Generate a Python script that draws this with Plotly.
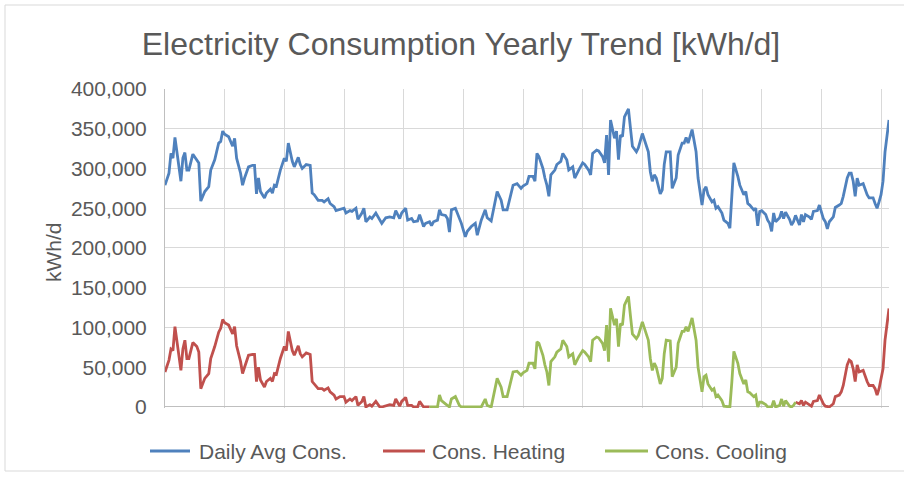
import plotly.graph_objects as go

# Day of year (0 = first day) and daily electricity figures in thousand kWh/d
days = [0, 2, 3, 4, 5, 6, 8, 9, 10, 11, 12, 14, 16, 17, 18, 20, 22, 23, 25, 27, 28, 29, 30, 32, 33, 34, 35, 36, 38, 39,
        40, 42, 44, 45, 46, 47, 48, 50, 51, 53, 54, 55, 56, 58, 60, 61, 62, 64, 65, 67, 68, 69, 71, 73, 74, 75, 77, 79,
        80, 82, 83, 85, 86, 88, 90, 91, 93, 94, 96, 97, 99, 100, 101, 103, 104, 106, 108, 109, 111, 113, 115, 116, 118,
        119, 121, 122, 124, 125, 127, 128, 130, 131, 133, 134, 135, 137, 138, 139, 141, 142, 143, 144, 146, 148, 149,
        151, 152, 154, 156, 157, 159, 161, 162, 164, 165, 167, 169, 170, 172, 174, 175, 177, 179, 180, 182, 183, 185,
        186, 187, 188, 190, 191, 192, 193, 194, 196, 197, 199, 200, 202, 203, 205, 206, 208, 210, 211, 213, 214, 215,
        217, 218, 220, 221, 222, 223, 224, 226, 227, 228, 229, 230, 231, 233, 234, 235, 237, 238, 240, 242, 243, 244,
        245, 246, 247, 249, 250, 251, 252, 254, 255, 257, 258, 260, 261, 262, 263, 265, 266, 267, 268, 270, 271, 272,
        273, 275, 276, 277, 278, 280, 281, 283, 284, 285, 286, 288, 289, 291, 292, 293, 294, 296, 297, 298, 299, 300,
        302, 303, 304, 305, 306, 307, 309, 310, 311, 312, 314, 315, 316, 317, 319, 320, 321, 322, 324, 325, 326, 328,
        329, 331, 332, 333, 334, 336, 337, 339, 340, 341, 343, 344, 345, 346, 347, 348, 349, 351, 352, 353, 354, 356,
        357, 358, 359, 360, 361, 362, 364]

daily_avg = [279, 294, 319, 313, 339, 321, 284, 313, 320, 298, 298, 318, 311, 307, 259, 271, 277, 298, 311, 332, 334,
             347, 343, 340, 334, 328, 338, 313, 294, 279, 288, 302, 304, 304, 268, 288, 271, 263, 269, 274, 269, 279,
             278, 298, 313, 309, 332, 309, 302, 314, 305, 300, 305, 304, 269, 267, 260, 260, 258, 262, 256, 252, 247,
             249, 250, 244, 247, 246, 250, 236, 244, 250, 233, 239, 237, 244, 235, 231, 238, 239, 238, 247, 237, 244,
             250, 235, 237, 233, 234, 242, 227, 231, 233, 228, 233, 235, 248, 242, 241, 237, 220, 248, 250, 237, 231,
             214, 221, 227, 231, 216, 235, 248, 238, 234, 248, 271, 260, 248, 248, 271, 279, 281, 275, 278, 281, 290,
             290, 284, 319, 315, 300, 288, 279, 265, 292, 298, 305, 309, 319, 311, 298, 302, 288, 298, 307, 305, 298,
             292, 319, 323, 322, 315, 307, 342, 292, 361, 338, 347, 311, 342, 340, 365, 375, 351, 328, 321, 326, 344,
             328, 321, 296, 284, 292, 288, 268, 273, 305, 321, 321, 275, 288, 317, 332, 332, 339, 332, 349, 336, 321,
             288, 254, 273, 277, 267, 258, 260, 250, 252, 244, 235, 231, 225, 267, 307, 290, 279, 267, 271, 256, 254,
             248, 250, 228, 246, 247, 242, 235, 231, 221, 244, 233, 238, 246, 237, 245, 236, 229, 233, 241, 229, 242,
             233, 242, 239, 236, 246, 247, 254, 237, 233, 224, 233, 239, 251, 254, 256, 265, 288, 294, 294, 284, 265,
             288, 279, 281, 273, 267, 263, 263, 256, 250, 258, 267, 284, 321, 361]

heat_days = [0, 2, 3, 4, 5, 6, 8, 9, 10, 11, 12, 14, 16, 17, 18, 20, 22, 23, 25, 27, 28, 29, 30, 32, 33, 34, 35, 36,
             38, 39, 40, 42, 44, 45, 46, 47, 48, 50, 51, 53, 54, 55, 56, 58, 60, 61, 62, 64, 65, 67, 68, 69, 71, 73,
             74, 75, 77, 79, 80, 82, 83, 85, 86, 88, 90, 91, 93, 94, 96, 97, 99, 100, 101, 103, 104, 106, 108, 109,
             111, 113, 115, 116, 118, 119, 121, 122, 124, 125, 127, 128, 130, 131, 133,
             317, 319, 320, 321, 322, 324, 325, 326, 328, 329, 331, 332, 333, 334, 336, 337, 339, 340, 341, 343, 344,
             345, 346, 347, 348, 349, 351, 352, 353, 354, 356, 357, 358, 359, 360, 361, 362, 364]

heating = [44, 59, 73, 71, 101, 82, 46, 73, 84, 61, 61, 81, 76, 69, 23, 36, 42, 61, 76, 94, 99, 110, 106, 103, 97, 92,
           101, 77, 57, 42, 50, 65, 66, 66, 32, 50, 34, 25, 32, 36, 32, 42, 41, 61, 76, 71, 95, 71, 65, 77, 67, 63, 68,
           66, 32, 29, 23, 23, 21, 24, 19, 15, 10, 13, 13, 6, 10, 8, 13, 2, 7, 13, 0, 3, 1, 7, 0, 0, 2, 3, 2, 10, 1, 7,
           12, 2, 2, 0, 0, 7, 0, 0, 0,
           6, 4, 8, 2, 6, 3, 1, 7, 8, 15, 4, 1, 0, 0, 4, 13, 15, 19, 27, 53, 59, 57, 48, 32, 53, 44, 46, 38, 32, 27,
           27, 23, 15, 23, 34, 48, 84, 124]

cool_days = [133, 134, 135, 137, 138, 139, 141, 142, 143, 144, 146, 148, 149, 151, 152, 154, 156, 157, 159, 161, 162,
             164, 165, 167, 169, 170, 172, 174, 175, 177, 179, 180, 182, 183, 185, 186, 187, 188, 190, 191, 192, 193,
             194, 196, 197, 199, 200, 202, 203, 205, 206, 208, 210, 211, 213, 214, 215, 217, 218, 220, 221, 222, 223,
             224, 226, 227, 228, 229, 230, 231, 233, 234, 235, 237, 238, 240, 242, 243, 244, 245, 246, 247, 249, 250,
             251, 252, 254, 255, 257, 258, 260, 261, 262, 263, 265, 266, 267, 268, 270, 271, 272, 273, 275, 276, 277,
             278, 280, 281, 283, 284, 285, 286, 288, 289, 291, 292, 293, 294, 296, 297, 298, 299, 300, 302, 303, 304,
             305, 306, 307, 309, 310, 311, 312, 314, 315, 316, 317]

cooling = [0, 0, 0, 0, 15, 8, 4, 2, 0, 10, 13, 2, 0, 0, 0, 0, 0, 0, 0, 10, 2, 0, 13, 36, 25, 13, 13, 36, 44, 45, 40,
           43, 46, 55, 55, 48, 82, 80, 65, 53, 44, 27, 57, 63, 69, 73, 84, 76, 63, 67, 53, 63, 71, 69, 63, 57, 84, 88,
           87, 80, 71, 103, 57, 124, 103, 111, 76, 105, 103, 128, 139, 115, 92, 86, 90, 107, 93, 84, 61, 46, 55, 50,
           29, 36, 67, 84, 83, 38, 50, 80, 95, 95, 101, 95, 112, 99, 84, 50, 19, 38, 40, 29, 21, 23, 13, 15, 8, 1, 0,
           0, 32, 70, 55, 42, 29, 34, 19, 18, 13, 15, 0, 6, 6, 3, 0, 0, 0, 8, 0, 2, 10, 1, 8, 1, 0, 2, 6]

y_ticks = [0, 50000, 100000, 150000, 200000, 250000, 300000, 350000, 400000]

series_names = ["Daily Avg Cons.", "Cons. Heating", "Cons. Cooling"]
series_colors = ["#4F81BD", "#C0504D", "#9BBB59"]

assert len(days) == len(daily_avg)
assert len(heat_days) == len(heating)
assert len(cool_days) == len(cooling)


def with_breaks(xs, ys, gap=30):
    """Insert a None break where the day sequence jumps (separate seasons)."""
    bx, by = [], []
    for i, (x, y) in enumerate(zip(xs, ys)):
        if i and x - xs[i - 1] > gap:
            bx.append(None)
            by.append(None)
        bx.append(x)
        by.append(y * 1000)
    return bx, by


W, H = 904, 479
L, R, T, B = 165, 15, 89, 71
PW, PH = W - L - R, H - T - B


def px_x(px):
    return (px - L) / PW


def px_y(py):
    return (H - B - py) / PH


TXT = "#595959"
FONT = "Liberation Sans, Arial, sans-serif"

fig = go.Figure()
for (xs, ys), name, color in zip(
    [with_breaks(days, daily_avg), with_breaks(heat_days, heating), with_breaks(cool_days, cooling)],
    series_names, series_colors,
):
    fig.add_trace(go.Scatter(
        x=xs, y=ys, mode="lines", name=name,
        line=dict(color=color, width=2.8),
        connectgaps=False, showlegend=False,
    ))

fig.update_layout(
    width=W, height=H,
    margin=dict(l=L, r=R, t=T, b=B),
    paper_bgcolor="white", plot_bgcolor="white",
    font=dict(family=FONT, color=TXT, size=21),
    title=dict(
        text="Electricity Consumption Yearly Trend [kWh/d]",
        font=dict(size=32, color=TXT, family=FONT),
        x=461 / W, xanchor="center", xref="container",
        y=1 - 44 / H, yanchor="middle", yref="container",
    ),
    xaxis=dict(
        range=[0, 364], tick0=0, dtick=30,
        showticklabels=False, ticks="",
        showgrid=True, gridcolor="#D9D9D9", gridwidth=1,
        showline=False, zeroline=False, fixedrange=True,
    ),
    yaxis=dict(
        range=[-1300, 400000],
        tickvals=y_ticks, tickformat=",d",
        tickfont=dict(size=21, color=TXT),
        showgrid=True, gridcolor="#D9D9D9", gridwidth=1,
        zeroline=True, zerolinecolor="#BFBFBF", zerolinewidth=1,
        showline=True, linecolor="#BFBFBF", linewidth=1,
        ticks="", ticklabelstandoff=13,
    ),
    showlegend=False,
)

# y-axis title
fig.add_annotation(
    text="kWh/d", textangle=-90,
    x=px_x(53), y=px_y(252), xref="paper", yref="paper",
    xanchor="center", yanchor="middle",
    showarrow=False, font=dict(size=21, color=TXT),
)

# legend: line sample + label for each series
legend_line_x = [(150, 190), (383, 425), (605, 648)]
legend_text_x = [197, 430, 653]
legend_y = 451
for name, color, (lx0, lx1), tx in zip(series_names, series_colors, legend_line_x, legend_text_x):
    fig.add_shape(
        type="line", xref="paper", yref="paper",
        x0=px_x(lx0), x1=px_x(lx1), y0=px_y(legend_y), y1=px_y(legend_y),
        line=dict(color=color, width=3),
    )
    fig.add_annotation(
        text=name, x=px_x(tx), y=px_y(legend_y), xref="paper", yref="paper",
        xanchor="left", yanchor="middle", showarrow=False,
        font=dict(size=21, color=TXT),
    )

# chart frame
fig.add_shape(
    type="rect", xref="paper", yref="paper",
    x0=px_x(5), x1=px_x(910), y0=px_y(471), y1=px_y(5),
    line=dict(color="#D9D9D9", width=1), fillcolor="rgba(0,0,0,0)", layer="below",
)

fig.write_html("out.html")
